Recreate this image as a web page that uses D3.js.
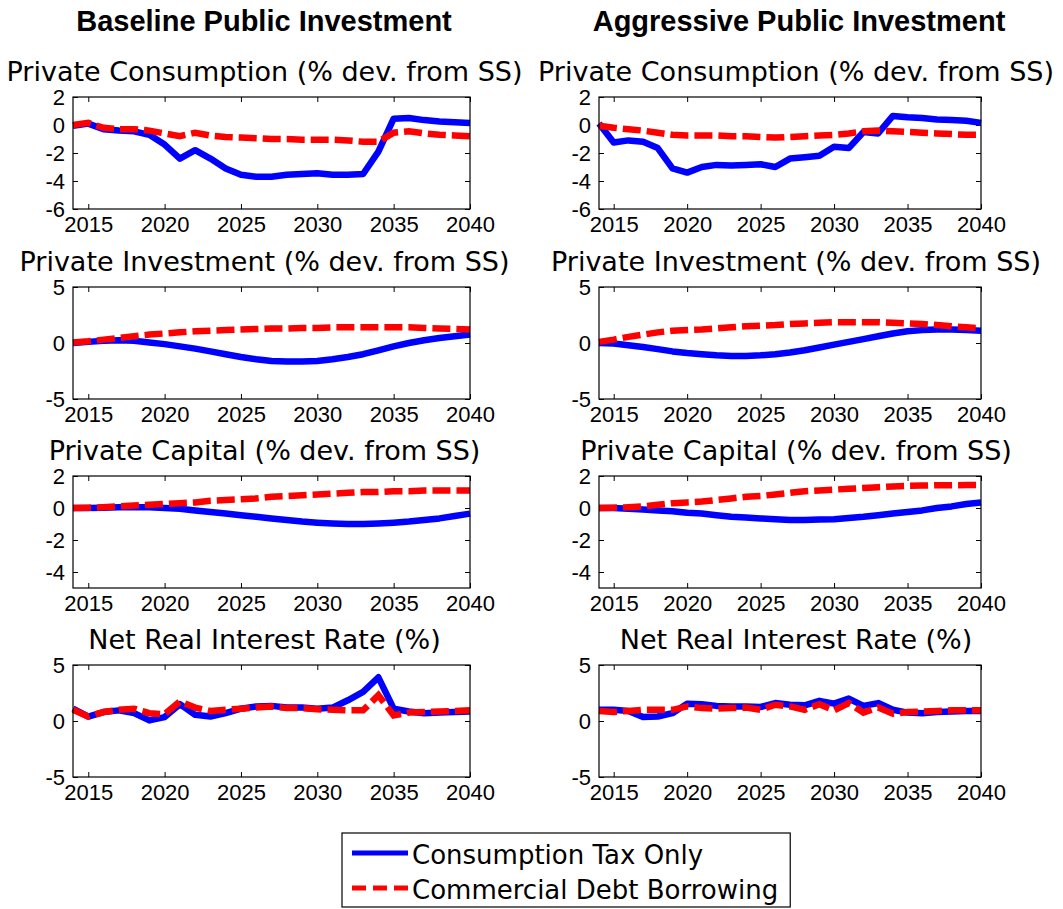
<!DOCTYPE html>
<html>
<head>
<meta charset="utf-8">
<script src="https://cdn.jsdelivr.net/npm/d3@7"></script>
<style>
  body { margin: 0; background: #fff; }
  svg { display: block; }
</style>
</head>
<body>
<script>
// ---- data ----
var years = [2014, 2015, 2016, 2017, 2018, 2019, 2020, 2021, 2022, 2023, 2024, 2025, 2026,
             2027, 2028, 2029, 2030, 2031, 2032, 2033, 2034, 2035, 2036, 2037, 2038, 2039, 2040];
var xTicks = [2015, 2020, 2025, 2030, 2035, 2040];

var colTitles = ["Baseline Public Investment", "Aggressive Public Investment"];
var rowTitles = ["Private Consumption (% dev. from SS)", "Private Investment (% dev. from SS)",
                 "Private Capital (% dev. from SS)", "Net Real Interest Rate (%)"];
var rowYDomains = [[-6, 2], [-5, 5], [-5, 2], [-5, 5]];
var rowYTicks = [[-6, -4, -2, 0, 2], [-5, 0, 5], [-4, -2, 0, 2], [-5, 0, 5]];
var seriesNames = ["Consumption Tax Only", "Commercial Debt Borrowing"];

// private consumption
var consBaseTax  = [-0.05, 0.1, -0.3, -0.4, -0.45, -0.7, -1.4, -2.4, -1.8, -2.4, -3.1, -3.55, -3.7,
                    -3.7, -3.55, -3.5, -3.45, -3.55, -3.55, -3.5, -1.9, 0.45, 0.5, 0.35, 0.25, 0.2, 0.15];
var consBaseDebt = [0, 0.15, -0.2, -0.3, -0.3, -0.4, -0.6, -0.8, -0.55, -0.75, -0.85, -0.9, -0.95,
                    -1.0, -1.0, -1.05, -1.05, -1.05, -1.1, -1.2, -1.2, -0.55, -0.45, -0.6, -0.7, -0.75, -0.8];
var consAggrTax  = [0.1, -1.25, -1.1, -1.2, -1.65, -3.1, -3.4, -3.0, -2.85, -2.9, -2.85, -2.8, -3.0,
                    -2.4, -2.3, -2.2, -1.55, -1.65, -0.5, -0.6, 0.65, 0.55, 0.5, 0.4, 0.35, 0.3, 0.15];
var consAggrDebt = [-0.05, -0.2, -0.3, -0.4, -0.55, -0.7, -0.75, -0.75, -0.75, -0.8, -0.8, -0.85, -0.9,
                    -0.85, -0.8, -0.75, -0.7, -0.6, -0.45, -0.4, -0.45, -0.5, -0.55, -0.6, -0.65, -0.7, -0.7];
// private investment
var invBaseTax   = [0, 0.1, 0.2, 0.25, 0.2, 0.05, -0.1, -0.3, -0.5, -0.75, -1.0, -1.25, -1.45,
                    -1.6, -1.65, -1.65, -1.6, -1.45, -1.25, -1.0, -0.65, -0.3, 0.0, 0.25, 0.45, 0.6, 0.75];
var invBaseDebt  = [0.05, 0.15, 0.3, 0.45, 0.6, 0.75, 0.85, 0.95, 1.05, 1.1, 1.15, 1.2, 1.25,
                    1.3, 1.3, 1.35, 1.35, 1.4, 1.4, 1.4, 1.4, 1.4, 1.4, 1.35, 1.3, 1.25, 1.2];
var invAggrTax   = [0, -0.05, -0.2, -0.35, -0.55, -0.75, -0.9, -1.0, -1.1, -1.15, -1.15, -1.1, -1.0,
                    -0.85, -0.65, -0.4, -0.15, 0.1, 0.35, 0.6, 0.85, 1.05, 1.15, 1.2, 1.2, 1.15, 1.1];
var invAggrDebt  = [0.1, 0.3, 0.55, 0.75, 0.95, 1.1, 1.15, 1.2, 1.3, 1.4, 1.5, 1.55, 1.6,
                    1.7, 1.75, 1.8, 1.85, 1.85, 1.85, 1.85, 1.8, 1.75, 1.7, 1.6, 1.5, 1.4, 1.3];
// private capital
var capBaseTax   = [0, 0, 0.02, 0.05, 0.05, 0.05, 0, -0.05, -0.15, -0.25, -0.35, -0.45, -0.55,
                    -0.65, -0.75, -0.85, -0.92, -0.97, -1.0, -1.0, -0.97, -0.92, -0.85, -0.75, -0.65, -0.5, -0.35];
var capBaseDebt  = [0, 0.02, 0.05, 0.1, 0.15, 0.2, 0.25, 0.3, 0.35, 0.45, 0.5, 0.55, 0.6,
                    0.7, 0.75, 0.8, 0.85, 0.9, 0.95, 1.0, 1.0, 1.05, 1.05, 1.1, 1.1, 1.1, 1.1];
var capAggrTax   = [0, 0, -0.05, -0.1, -0.15, -0.2, -0.3, -0.35, -0.45, -0.55, -0.6, -0.65, -0.7,
                    -0.75, -0.75, -0.72, -0.7, -0.62, -0.55, -0.45, -0.35, -0.25, -0.15, 0, 0.1, 0.25, 0.35];
var capAggrDebt  = [0, 0.02, 0.05, 0.1, 0.2, 0.3, 0.35, 0.4, 0.5, 0.6, 0.7, 0.75, 0.85,
                    0.95, 1.05, 1.1, 1.15, 1.2, 1.25, 1.3, 1.35, 1.38, 1.4, 1.42, 1.42, 1.43, 1.43];
// net real interest rate
var rateBaseTax  = [1.1, 0.4, 0.8, 0.95, 0.7, 0.05, 0.35, 1.5, 0.55, 0.4, 0.7, 1.1, 1.3,
                    1.35, 1.2, 1.2, 1.1, 1.2, 1.85, 2.6, 3.9, 1.1, 0.85, 0.7, 0.75, 0.8, 0.85];
var rateBaseDebt = [1.0, 0.4, 0.8, 1.0, 1.1, 0.7, 0.6, 1.75, 1.2, 0.9, 1.0, 1.1, 1.2,
                    1.3, 1.15, 1.15, 1.05, 1.0, 0.95, 0.95, 2.3, 0.5, 0.75, 0.8, 0.85, 0.9, 0.95];
var rateAggrTax  = [1.0, 1.0, 0.9, 0.35, 0.4, 0.7, 1.55, 1.5, 1.35, 1.3, 1.3, 1.25, 1.6,
                    1.45, 1.4, 1.8, 1.55, 2.0, 1.35, 1.6, 1.0, 0.75, 0.7, 0.8, 0.85, 0.9, 0.9];
var rateAggrDebt = [0.9, 0.8, 0.9, 1.0, 1.0, 1.0, 1.3, 1.15, 1.1, 1.15, 1.2, 1.0, 1.45,
                    1.3, 1.0, 1.5, 0.95, 1.6, 0.75, 1.2, 0.65, 0.8, 0.85, 0.9, 0.95, 0.95, 0.95];

// panel table: [row][col] -> [tax series, debt series]
var panels = [
    [[consBaseTax, consBaseDebt], [consAggrTax, consAggrDebt]],
    [[invBaseTax, invBaseDebt], [invAggrTax, invAggrDebt]],
    [[capBaseTax, capBaseDebt], [capAggrTax, capAggrDebt]],
    [[rateBaseTax, rateBaseDebt], [rateAggrTax, rateAggrDebt]]
];

// ---- layout ----
var W = 1063, H = 909;
var colX = [73, 599];
var colW = [397, 382];
var rowY = [97, 287, 476, 665];
var plotH = 112;
var blue = "#0000ff", red = "#ff0000";
var axisFont = "'Liberation Sans', Arial, sans-serif";
var titleFont = "'DejaVu Sans', Verdana, sans-serif";

var svg = d3.select("body").append("svg")
    .attr("width", W)
    .attr("height", H);

svg.append("rect").attr("width", W).attr("height", H).attr("fill", "#fff");

// column headers
var headerX = [264, 799];
colTitles.forEach(function (t, c) {
    svg.append("text")
        .attr("x", headerX[c])
        .attr("y", 31)
        .attr("text-anchor", "middle")
        .style("font-family", axisFont)
        .style("font-weight", "bold")
        .style("font-size", "29px")
        .text(t);
});

// subplot titles sit a little off the axes centre in the reference
var titleShift = [-7, 6];
var line = d3.line();

panels.forEach(function (row, r) {
    row.forEach(function (pair, c) {
        var w = colW[c];
        var x = d3.scaleLinear().domain([2014, 2040]).range([0, w]);
        var y = d3.scaleLinear().domain(rowYDomains[r]).range([plotH, 0]);

        var g = svg.append("g")
            .attr("transform", "translate(" + colX[c] + "," + rowY[r] + ")");

        g.append("text")
            .attr("x", w / 2 + titleShift[c])
            .attr("y", -16)
            .attr("text-anchor", "middle")
            .style("font-family", titleFont)
            .style("font-size", "27px")
            .text(rowTitles[r]);

        // axes, ticks pointing inward
        var gx = g.append("g")
            .attr("transform", "translate(0," + plotH + ")")
            .call(d3.axisBottom(x).tickValues(xTicks).tickFormat(d3.format("d"))
                .tickSizeInner(-5).tickSizeOuter(0).tickPadding(7));
        var gxt = g.append("g")
            .call(d3.axisTop(x).tickValues(xTicks).tickFormat("")
                .tickSizeInner(-5).tickSizeOuter(0));
        var gy = g.append("g")
            .call(d3.axisLeft(y).tickValues(rowYTicks[r]).tickFormat(d3.format("d"))
                .tickSizeInner(-5).tickSizeOuter(0).tickPadding(8));
        var gyr = g.append("g")
            .attr("transform", "translate(" + w + ",0)")
            .call(d3.axisRight(y).tickValues(rowYTicks[r]).tickFormat("")
                .tickSizeInner(-5).tickSizeOuter(0));

        [gx, gxt, gy, gyr].forEach(function (a) {
            a.select(".domain").remove();
            a.selectAll("line").attr("stroke", "#000").attr("stroke-width", 1);
            a.selectAll("text")
                .style("font-family", axisFont)
                .style("font-size", "22px")
                .attr("fill", "#000");
        });
        // MATLAB uses a hyphen-minus for negative ticks
        gy.selectAll("text").text(function (d) { return String(d); });

        line.x(function (d, i) { return x(years[i]); })
            .y(function (d) { return y(d); });

        g.append("path")
            .datum(pair[0])
            .attr("d", line)
            .attr("fill", "none")
            .attr("stroke", blue)
            .attr("stroke-width", 6.5)
            .attr("stroke-linejoin", "round");

        g.append("path")
            .datum(pair[1])
            .attr("d", line)
            .attr("fill", "none")
            .attr("stroke", red)
            .attr("stroke-width", 6.5)
            .attr("stroke-dasharray", "18,6");

        g.append("rect")
            .attr("width", w)
            .attr("height", plotH)
            .attr("fill", "none")
            .attr("stroke", "#000")
            .attr("stroke-width", 1.2);
    });
});

// legend
var lg = svg.append("g").attr("transform", "translate(342,833)");
var lgBox = lg.append("rect")
    .attr("height", 74)
    .attr("fill", "#fff")
    .attr("stroke", "#000")
    .attr("stroke-width", 1.2);

var maxText = 0;
seriesNames.forEach(function (name, i) {
    var yy = 20 + i * 35;
    lg.append("line")
        .attr("x1", 10).attr("x2", 66)
        .attr("y1", yy).attr("y2", yy)
        .attr("stroke", i === 0 ? blue : red)
        .attr("stroke-width", 5)
        .attr("stroke-dasharray", i === 0 ? null : "14,7");
    var t = lg.append("text")
        .attr("x", 70)
        .attr("y", yy + 11)
        .style("font-family", titleFont)
        .style("font-size", "26px")
        .text(name);
    maxText = Math.max(maxText, t.node().getComputedTextLength());
});
lgBox.attr("width", 70 + maxText + 12);
</script>
</body>
</html>
